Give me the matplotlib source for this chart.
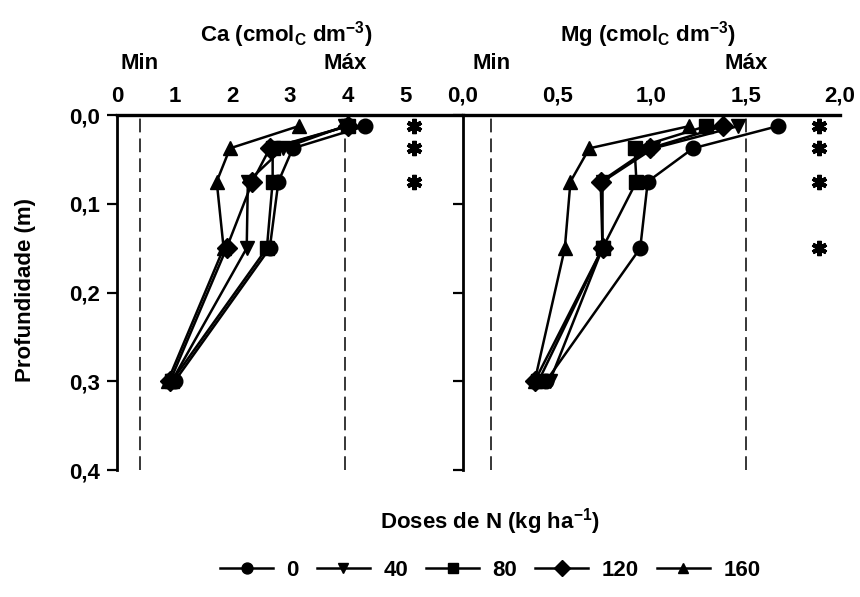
import matplotlib
matplotlib.use("Agg")
import matplotlib.pyplot as plt
from matplotlib.ticker import FuncFormatter

plt.rcParams['font.family'] = ['Liberation Sans', 'DejaVu Sans']
plt.rcParams['font.weight'] = 'bold'
plt.rcParams['mathtext.fontset'] = 'custom'
plt.rcParams['mathtext.rm'] = 'Liberation Sans:bold'
plt.rcParams['mathtext.it'] = 'Liberation Sans:bold'
plt.rcParams['mathtext.bf'] = 'Liberation Sans:bold'
plt.rcParams['mathtext.default'] = 'rm'

FS = 16

# profundidades (ponto medio das camadas, m)
depth = [0.0125, 0.0375, 0.075, 0.15, 0.30]

doses = ["0", "40", "80", "120", "160"]
markers = ["o", "v", "s", "D", "^"]

# Ca (cmolc dm-3) por dose de N
ca_0 = [4.30, 3.05, 2.80, 2.65, 1.00]
ca_40 = [3.95, 2.88, 2.27, 2.25, 0.95]
ca_80 = [4.00, 2.70, 2.70, 2.60, 0.95]
ca_120 = [4.00, 2.65, 2.35, 1.90, 0.92]
ca_160 = [3.15, 1.96, 1.73, 1.85, 0.88]

# Mg (cmolc dm-3) por dose de N
mg_0 = [1.67, 1.22, 0.98, 0.94, 0.44]
mg_40 = [1.46, 1.01, 0.74, 0.74, 0.46]
mg_80 = [1.29, 0.91, 0.92, 0.74, 0.40]
mg_120 = [1.38, 0.99, 0.73, 0.74, 0.38]
mg_160 = [1.20, 0.67, 0.57, 0.54, 0.38]

ca_lim = [0.4, 3.95]   # Min, Max
mg_lim = [0.15, 1.5]

# camadas com diferenca significativa
ca_sig = [0.0125, 0.0375, 0.075]
mg_sig = [0.0125, 0.0375, 0.075, 0.15]

ca_series = [ca_0, ca_40, ca_80, ca_120, ca_160]
mg_series = [mg_0, mg_40, mg_80, mg_120, mg_160]

fig = plt.figure(figsize=(8.6, 5.97), dpi=100)
ax1 = fig.add_axes([0.1360, 0.2127, 0.4023, 0.5946])
ax2 = fig.add_axes([0.5384, 0.2127, 0.4384, 0.5946])

comma = lambda fmt: FuncFormatter(lambda v, p: (fmt % v).replace(".", ","))


def panel(ax, series, lim, sig, xmax, xticks, xfmt, sig_x, title, show_y):
    for vals, mk, lab in zip(series, markers, doses):
        ax.plot(vals, depth, color="black", lw=1.8, marker=mk, ms=10.5,
                mfc="black", mec="black", label=lab, zorder=3)
    for v in lim:
        ax.axvline(v, color="black", lw=1.1, ls=(0, (9, 4)), zorder=1)
    ax.plot([sig_x] * len(sig), sig, ls="none", marker=(6, 2, 0), ms=11,
            mec="black", mew=3, clip_on=False)

    ax.set_xlim(0, xmax)
    ax.set_ylim(0.4, 0)
    ax.xaxis.tick_top()
    ax.set_xticks(xticks)
    ax.xaxis.set_major_formatter(comma(xfmt))
    ax.set_yticks([0.0, 0.1, 0.2, 0.3, 0.4])
    ax.yaxis.set_major_formatter(comma("%.1f"))
    ax.tick_params(axis="x", length=0, pad=6, labelsize=FS)
    ax.tick_params(axis="y", length=7, width=1.6, pad=5, labelsize=FS,
                   labelleft=show_y)
    ax.spines["top"].set_linewidth(2.4)
    ax.spines["left"].set_linewidth(2)
    ax.spines["right"].set_visible(False)
    ax.spines["bottom"].set_visible(False)

    tr = ax.get_xaxis_transform()
    ax.text(lim[0], 1.146, "Min", transform=tr, ha="center", va="center",
            fontsize=FS)
    ax.text(lim[1], 1.146, "Máx", transform=tr, ha="center", va="center",
            fontsize=FS)
    ax.text(0.49, 1.228, title, transform=ax.transAxes, ha="center",
            va="center", fontsize=FS)


panel(ax1, ca_series, ca_lim, ca_sig, 6.0, [0, 1, 2, 3, 4, 5], "%d", 5.15,
      r"Ca (cmol$_\mathregular{C}$ dm$^\mathregular{-3}$)", True)
panel(ax2, mg_series, mg_lim, mg_sig, 2.0, [0, 0.5, 1.0, 1.5, 2.0], "%.1f",
      1.89, r"Mg (cmol$_\mathregular{C}$ dm$^\mathregular{-3}$)", False)

fig.text(26 / 860, 1 - 290 / 597, "Profundidade (m)", rotation=90,
         ha="center", va="center", fontsize=FS)
fig.text(0.570, 0.126, r"Doses de N (kg ha$^\mathregular{-1}$)",
         ha="center", va="center", fontsize=FS)

handles, labels = ax1.get_legend_handles_labels()
fig.legend(handles, labels, loc="center", bbox_to_anchor=(0.570, 0.045),
           ncol=5, frameon=False, fontsize=FS, handlelength=2.4,
           handletextpad=0.6, columnspacing=0.8, markerscale=0.75)

fig.savefig("out.png", dpi=100)
